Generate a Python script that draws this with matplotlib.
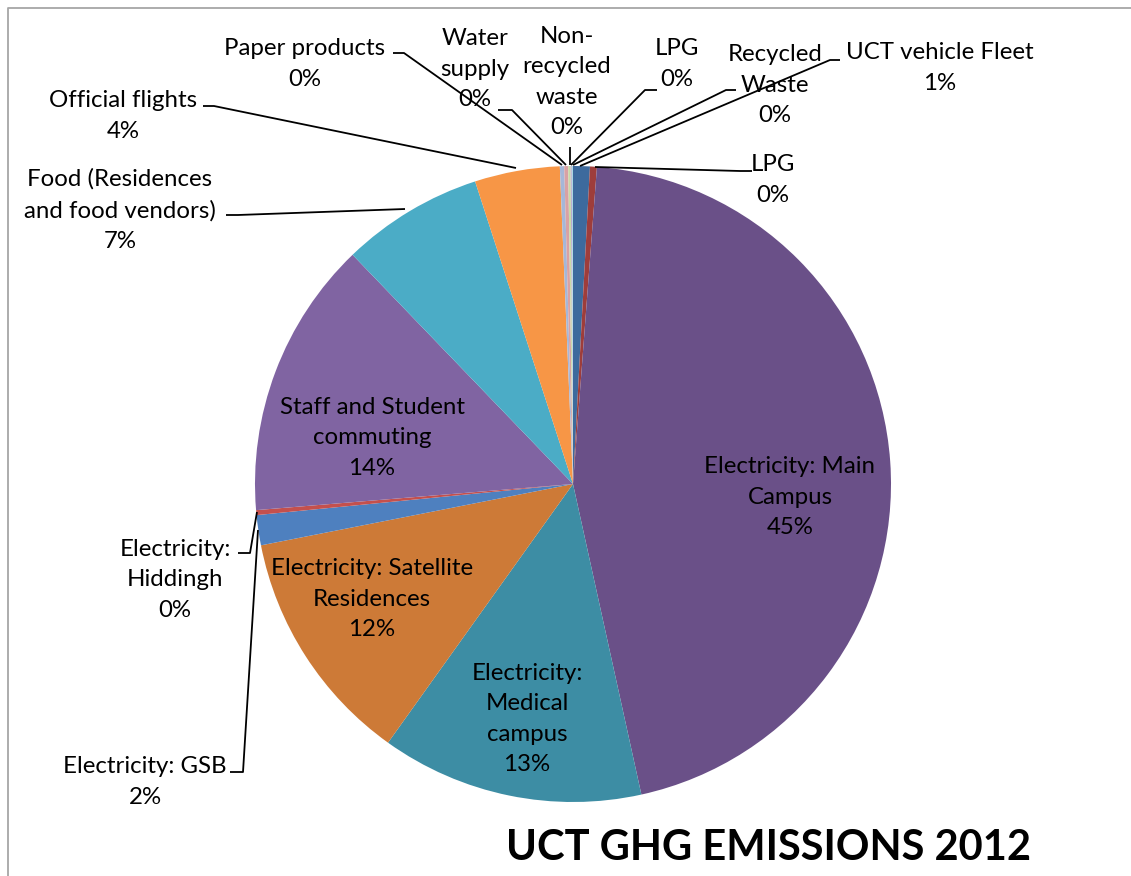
import matplotlib.pyplot as plt

# UCT GHG emissions 2012, share of total (%), in pie order clockwise from 12 o'clock
categories = ["UCT vehicle Fleet", "LPG", "Electricity: Main\nCampus", "Electricity:\nMedical\ncampus",
              "Electricity: Satellite\nResidences", "Electricity: GSB", "Electricity:\nHiddingh",
              "Staff and Student\ncommuting", "Food (Residences\nand food vendors)", "Official flights",
              "Paper products", "Water\nsupply", "Non-\nrecycled\nwaste", "LPG", "Recycled\nWaste"]
shares = [0.85, 0.35, 45.35, 13.33, 12.03, 1.53, 0.25, 14.12, 7.21, 4.32, 0.22, 0.20, 0.12, 0.06, 0.06]
colors = ["#3D6A9D", "#9E3D3B", "#6A5088", "#3D8DA4", "#CD7A37", "#4E80BF", "#C4504D",
          "#8064A2", "#4BACC6", "#F79646", "#A5B7D8", "#D9A1A4", "#C8DAA6", "#B9A9CC", "#A9D6E3"]

W, H = 1131, 876
fig = plt.figure(figsize=(W / 100, H / 100), dpi=100)
ax = fig.add_axes([0, 0, 1, 1])
font = ["Lato", "DejaVu Sans"]
fs = 17.3
ls = 1.56

cx, cy, r = 573, 484, 318
# y axis is inverted (pixel rows), so counterclock=True appears clockwise
wedges, _ = ax.pie(shares, colors=colors, startangle=-90, counterclock=True,
                   center=(cx, cy), radius=r, wedgeprops=dict(linewidth=0))

total = sum(shares)
pct = [f"{round(v / total * 100):d}%" for v in shares]

# labels drawn inside the big slices: index -> text position
inside = {2: (790, 497), 3: (527, 719), 4: (372, 599), 7: (372, 438)}
for i, (x, y) in inside.items():
    ax.text(x, y, categories[i] + "\n" + pct[i], ha="center", va="center",
            fontsize=fs, family=font, linespacing=ls)

# outside labels: index -> (text centre, leader line points)
outside = {
    0: ((940, 68), [(840, 60), (830, 60), (580, 166)]),
    1: ((773, 180), [(752, 171), (740, 171), (595, 167)]),
    5: ((145, 782), [(230, 772), (243, 772), (258, 530)]),
    6: ((175, 580), [(238, 553), (250, 553), (257, 512)]),
    8: ((120, 210), [(226, 215), (238, 215), (405, 209)]),
    9: ((123, 116), [(203, 106), (214, 106), (516, 168)]),
    10: ((305, 64), [(393, 53), (404, 53), (562, 165)]),
    11: ((475, 69), [(498, 110), (512, 110), (566, 165)]),
    12: ((567, 82), [(570, 147), (570, 165)]),
    13: ((677, 64), [(657, 90), (645, 90), (571, 165)]),
    14: ((775, 85), [(736, 90), (726, 90), (573, 165)]),
}
for i, ((x, y), pts) in outside.items():
    ax.text(x, y, categories[i] + "\n" + pct[i], ha="center", va="center",
            fontsize=fs, family=font, linespacing=ls)
    ax.plot([p[0] for p in pts], [p[1] for p in pts], color="black", lw=1.3,
            solid_capstyle="butt")

ax.text(768, 848, "UCT GHG EMISSIONS 2012", ha="center", va="center",
        fontsize=30, fontweight="bold", family=font)

# chart area frame (left and top edges visible)
ax.plot([8, 8, W + 5], [H + 5, 8, 8], color="#A6A6A6", lw=1.3)

ax.set_xlim(0, W)
ax.set_ylim(H, 0)
ax.set_aspect("equal")
ax.axis("off")
fig.savefig("out.png", dpi=100)
